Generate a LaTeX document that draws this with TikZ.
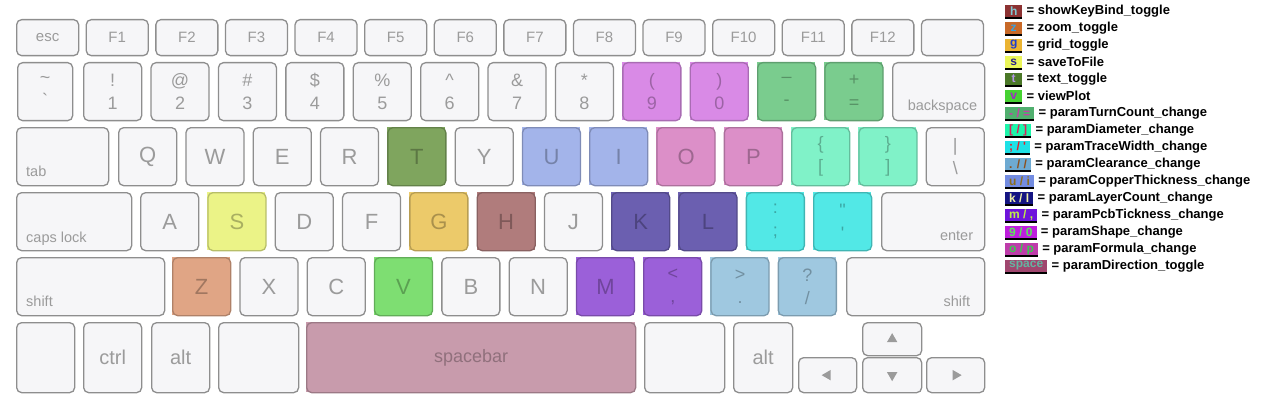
\documentclass[tikz,border=0pt]{standalone}
\usepackage{fontspec}
\setmainfont{Liberation Sans}
\usepackage{xcolor}
\usepackage{tikz}
\usetikzlibrary{positioning, shapes.geometric}

\definecolor{keyline}{HTML}{8E8E8E}
\definecolor{keyfill}{HTML}{F6F6F8}
\definecolor{keytext}{HTML}{9B9B9B}
% highlighted keys
\definecolor{cNine}{HTML}{D98AE6}
\definecolor{cMinus}{HTML}{7ACC8E}
\definecolor{cT}{HTML}{7FA55E}
\definecolor{cU}{HTML}{A3B4EA}
\definecolor{cO}{HTML}{DC8FC8}
\definecolor{cBrace}{HTML}{80F2C8}
\definecolor{cS}{HTML}{EBF387}
\definecolor{cG}{HTML}{ECCA6A}
\definecolor{cH}{HTML}{B07C7C}
\definecolor{cK}{HTML}{6B5FB0}
\definecolor{cSemi}{HTML}{52E8E6}
\definecolor{cZ}{HTML}{E0A585}
\definecolor{cV}{HTML}{7EDE72}
\definecolor{cM}{HTML}{9B60D9}
\definecolor{cDot}{HTML}{9FC8E0}
\definecolor{cSpace}{HTML}{C89BAC}

\def\plaincol{white}
\newcommand{\keyfnt}{\fontsize{22}{26}\selectfont}
\newcommand{\symfnt}{\fontsize{18}{23}\selectfont}
\newcommand{\fnfnt}{\fontsize{15}{18}\selectfont}
\newcommand{\modfnt}{\fontsize{14.5}{17}\selectfont}
\newcommand{\botfnt}{\fontsize{20}{24}\selectfont}

\begin{document}
\begin{tikzpicture}[
    x=1pt, y=-1pt,
    key/.style={draw=keyline, fill=keyfill, rounded corners=5pt, line width=1.3pt,
        text=keytext, inner sep=0pt, anchor=north west, align=center},
    kc/.code={\edef\kcol{#1}\ifx\kcol\plaincol\else
        \edef\tmp{\noexpand\tikzset{fill=\kcol, draw=\kcol!78!black, text=\kcol!72!black}}\tmp\fi},
    modlab/.style={font=\modfnt, text=keytext, inner sep=0pt},
    arrowtri/.style={regular polygon, regular polygon sides=3, fill=keytext,
        inner sep=0pt, minimum size=12pt},
    legbox/.style={anchor=west, font=\fontsize{12}{12}\selectfont\bfseries,
        inner xsep=4pt, inner ysep=0pt, minimum height=12pt, minimum width=17pt,
        preaction={fill=black, transform canvas={yshift=-2pt}}},
    legtxt/.style={font=\fontsize{13}{13}\selectfont\bfseries, inner sep=0pt}
]
\useasboundingbox (0,0) rectangle (1265,409);

    % --- Function row ---
    \foreach \lab [count=\i from 0] in {esc,F1,F2,F3,F4,F5,F6,F7,F8,F9,F10,F11,F12,{}} {
        \node[key, font=\fnfnt, minimum width=62pt, minimum height=36pt] (fn\i) at ({16+69.6*\i},19) {\lab};
    }

    % --- Number row ---
    \node[key, font=\symfnt, minimum width=55pt, minimum height=58pt] (tilde) at (17,62) {\textasciitilde\\\textasciigrave};
    \foreach \up/\dn/\c [count=\i from 0] in {!/1/white, @/2/white, \#/3/white, \$/4/white, \%/5/white,
            \textasciicircum/6/white, \&/7/white, */8/white, {(}/9/cNine, {)}/0/cNine,
            \textendash/-/cMinus, +/=/cMinus} {
        \fill[\c] ({83+67.4*\i},62) rectangle ++(58,58);
        \node[key, kc=\c, font=\symfnt, minimum width=58pt, minimum height=58pt] (num\i) at ({83+67.4*\i},62) {\up\\\dn};
    }
    \node[key, minimum width=92pt, minimum height=58pt] (bksp) at (892,62) {};
    \node[modlab, anchor=base east] (bksplab) at ([xshift=-8pt, yshift=11pt]bksp.south east) {backspace};

    % --- QWERTY row ---
    \node[key, minimum width=92pt, minimum height=58pt] (tab) at (16,127) {};
    \node[modlab, anchor=base west] (tablab) at ([xshift=10pt, yshift=10pt]tab.south west) {tab};
    \foreach \lab/\c [count=\i from 0] in {Q/white, W/white, E/white, R/white, T/cT, Y/white, U/cU, I/cU, O/cO, P/cO} {
        \fill[\c] ({118+67.3*\i},127) rectangle ++(58,58);
        \node[key, kc=\c, font=\keyfnt, minimum width=58pt, minimum height=58pt] (qw\i) at ({118+67.3*\i},127) {\lab};
    }
    \foreach \up/\dn/\c [count=\i from 10] in {\{/{[}/cBrace, \}/{]}/cBrace, |/\textbackslash/white} {
        \fill[\c] ({118+67.3*\i},127) rectangle ++(58,58);
        \node[key, kc=\c, font=\symfnt, minimum width=58pt, minimum height=58pt] (qw\i) at ({118+67.3*\i},127) {\up\\\dn};
    }

    % --- Home row ---
    \node[key, minimum width=115pt, minimum height=58pt] (caps) at (16,192) {};
    \node[modlab, anchor=base west] (capslab) at ([xshift=10pt, yshift=9pt]caps.south west) {caps lock};
    \foreach \lab/\c [count=\i from 0] in {A/white, S/cS, D/white, F/white, G/cG, H/cH, J/white, K/cK, L/cK} {
        \fill[\c] ({140+67.3*\i},192) rectangle ++(58,58);
        \node[key, kc=\c, font=\keyfnt, minimum width=58pt, minimum height=58pt] (as\i) at ({140+67.3*\i},192) {\lab};
    }
    \foreach \up/\dn/\c [count=\i from 9] in {:/;/cSemi, \textquotedbl/\textquotesingle/cSemi} {
        \fill[\c] ({140+67.3*\i},192) rectangle ++(58,58);
        \node[key, kc=\c, font=\symfnt, minimum width=58pt, minimum height=58pt] (as\i) at ({140+67.3*\i},192) {\up\\\dn};
    }
    \node[key, minimum width=103pt, minimum height=58pt] (enter) at (881,192) {};
    \node[modlab, anchor=base east] (enterlab) at ([xshift=-12pt, yshift=11pt]enter.south east) {enter};

    % --- Bottom letter row ---
    \node[key, minimum width=148pt, minimum height=58pt] (lshift) at (16,257) {};
    \node[modlab, anchor=base west] (lshiftlab) at ([xshift=10pt, yshift=10pt]lshift.south west) {shift};
    \foreach \lab/\c [count=\i from 0] in {Z/cZ, X/white, C/white, V/cV, B/white, N/white, M/cM} {
        \fill[\c] ({172+67.3*\i},257) rectangle ++(58,58);
        \node[key, kc=\c, font=\keyfnt, minimum width=58pt, minimum height=58pt] (zx\i) at ({172+67.3*\i},257) {\lab};
    }
    \foreach \up/\dn/\c [count=\i from 7] in {</{,}/cM, >/./cDot, ?/{/}/cDot} {
        \fill[\c] ({172+67.3*\i},257) rectangle ++(58,58);
        \node[key, kc=\c, font=\symfnt, minimum width=58pt, minimum height=58pt] (zx\i) at ({172+67.3*\i},257) {\up\\\dn};
    }
    \node[key, minimum width=138pt, minimum height=58pt] (rshift) at (846,257) {};
    \node[modlab, anchor=base east] (rshiftlab) at ([xshift=-15pt, yshift=10pt]rshift.south east) {shift};

    % --- Space row ---
    \node[key, minimum width=58pt, minimum height=70pt] (fnkey) at (16,322) {};
    \node[key, font=\botfnt, minimum width=58pt, minimum height=70pt] (ctrl) at (83,322) {ctrl};
    \node[key, font=\botfnt, minimum width=58pt, minimum height=70pt] (lalt) at (151,322) {alt};
    \node[key, minimum width=80pt, minimum height=70pt] (lcmd) at (218,322) {};
    \fill[cSpace] (306,322) rectangle ++(329,70);
    \node[key, kc=cSpace, font=\symfnt, minimum width=329pt, minimum height=70pt] (space) at (306,322) {spacebar};
    \node[key, minimum width=80pt, minimum height=70pt] (rcmd) at (644,322) {};
    \node[key, font=\botfnt, minimum width=59pt, minimum height=70pt] (ralt) at (733,322) {alt};

    % --- Arrow keys ---
    \node[key, minimum width=59pt, minimum height=33pt] (up) at (862,322) {};
    \node[key, minimum width=58pt, minimum height=35pt] (left) at (798,357) {};
    \node[key, minimum width=59pt, minimum height=35pt] (down) at (862,357) {};
    \node[key, minimum width=58pt, minimum height=35pt] (right) at (926,357) {};
    \node[arrowtri] (uptri) at (up.center) {};
    \node[arrowtri, shape border rotate=90] (lefttri) at (left.center) {};
    \node[arrowtri, shape border rotate=180] (downtri) at (down.center) {};
    \node[arrowtri, shape border rotate=270] (righttri) at (right.center) {};

    % --- Legend ---
    \foreach \kb/\bg/\fg/\txt [count=\i from 0] in {
            h/8C3232/82C8D2/showKeyBind\_toggle,
            z/C86928/3CA0DC/zoom\_toggle,
            g/EBB432/1E3CD2/grid\_toggle,
            s/EBF55A/281E8C/saveToFile,
            t/4B7828/B496E6/text\_toggle,
            v/46D232/A028C8/viewPlot,
            {- / =}/50AF6E/C83CAA/paramTurnCount\_change,
            {[ / ]}/1EF5AA/DC1E5A/paramDiameter\_change,
            {; / \textquotesingle}/1EE1E6/E61E28/paramTraceWidth\_change,
            {. / /}/6EAAD2/8C501E/paramClearance\_change,
            {u / i}/738CE1/8C6E1E/paramCopperThickness\_change,
            {k / l}/141482/F0F0AA/paramLayerCount\_change,
            {m / ,}/6E14DC/BEF046/paramPcbTickness\_change,
            {9 / 0}/BE1EDC/5AE65A/paramShape\_change,
            {o / p}/BE3CAA/3CC850/paramFormula\_change,
            space/A0466E/64B4A0/paramDirection\_toggle} {
        \definecolor{lgbg}{HTML}{\bg}
        \definecolor{lgfg}{HTML}{\fg}
        \node[legbox, fill=lgbg, text=lgfg] (lb\i) at (1005,{11+17*\i}) {\kb};
        \node[legtxt, anchor=west, right=4pt of lb\i] (lt\i) {= \txt};
    }
\end{tikzpicture}
\end{document}
